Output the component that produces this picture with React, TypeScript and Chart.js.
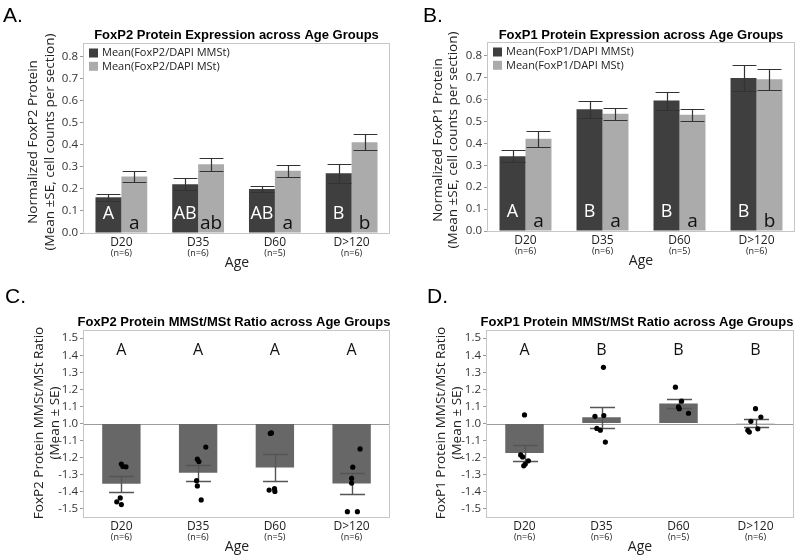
import React, { useEffect, useRef } from 'react';
import { Chart, registerables } from 'chart.js';

Chart.register(...registerables);

// ---------------- data ----------------
const ageGroups = ['D20', 'D35', 'D60', 'D>120'];
const sampleSizes = ['(n=6)', '(n=6)', '(n=5)', '(n=6)'];

// Panel A: FoxP2 / DAPI
const foxp2MMStMean = [0.162, 0.221, 0.2, 0.271];
const foxp2MMStSE = [0.015, 0.027, 0.012, 0.042];
const foxp2MStMean = [0.256, 0.312, 0.282, 0.412];
const foxp2MStSE = [0.026, 0.029, 0.028, 0.037];
const foxp2MMStGroups = ['A', 'AB', 'AB', 'B'];
const foxp2MStGroups = ['a', 'ab', 'a', 'b'];

// Panel B: FoxP1 / DAPI
const foxp1MMStMean = [0.341, 0.555, 0.595, 0.698];
const foxp1MMStSE = [0.027, 0.038, 0.041, 0.059];
const foxp1MStMean = [0.421, 0.535, 0.53, 0.692];
const foxp1MStSE = [0.036, 0.027, 0.027, 0.048];
const foxp1MMStGroups = ['A', 'B', 'B', 'B'];
const foxp1MStGroups = ['a', 'a', 'a', 'b'];

const expressionTicks = [0, 0.1, 0.2, 0.3, 0.4, 0.5, 0.6, 0.7, 0.8];

// Panel C: FoxP2 MMSt/MSt ratio (signed fold change: ratios < 1 shown as -1/ratio)
const foxp2RatioMean = [-1.353, -1.288, -1.258, -1.352];
const foxp2RatioSE = [0.047, 0.047, 0.081, 0.059];
const foxp2RatioGroups = ['A', 'A', 'A', 'A'];
const foxp2RatioD20 = [-1.238, -1.252, -1.254, -1.436, -1.459, -1.475];
const foxp2RatioD35 = [-1.138, -1.209, -1.223, -1.335, -1.366, -1.448];
const foxp2RatioD60 = [-1.058, -1.055, -1.39, -1.382, -1.398];
const foxp2RatioD120 = [-1.149, -1.256, -1.322, -1.349, -1.517, -1.517];
const foxp2JitterD20 = [0, 0.02, 0.06, -0.015, -0.06, 0];
const foxp2JitterD35 = [0.1, -0.01, 0.01, -0.02, -0.01, 0.04];
const foxp2JitterD60 = [-0.06, -0.045, -0.075, -0.005, 0];
const foxp2JitterD120 = [0.11, 0.015, 0, 0, -0.055, 0.075];

// Panel D: FoxP1 MMSt/MSt ratio
const foxp1RatioMean = [-1.173, 1.037, 1.117, 1.002];
const foxp1RatioSE = [0.045, 0.062, 0.026, 0.022];
const foxp1RatioGroups = ['A', 'B', 'B', 'B'];
const foxp1RatioD20 = [1.05, -1.184, -1.196, -1.219, -1.238, -1.248];
const foxp1RatioD35 = [1.329, 1.042, 1.047, -1.029, -1.039, -1.109];
const foxp1RatioD60 = [1.213, 1.131, 1.097, 1.087, 1.06];
const foxp1RatioD120 = [1.087, 1.038, 1.013, -1.031, -1.04, -1.05];
const foxp1JitterD20 = [0, -0.05, -0.025, 0.05, 0.01, -0.01];
const foxp1JitterD35 = [0.025, -0.085, 0.03, -0.06, -0.015, 0.05];
const foxp1JitterD60 = [-0.04, 0.04, 0, 0.01, 0.13];
const foxp1JitterD120 = [0, 0.07, -0.06, 0.03, -0.1, -0.08];

const ratioTicks = [-1.5, -1.4, -1.3, -1.2, -1.1, 1.0, 1.1, 1.2, 1.3, 1.4, 1.5];
const ratioLetterLevel = 1.4;

// ---------------- styling ----------------
const SANS = '"Open Sans", "Noto Sans", sans-serif';
const ARIAL = '"Liberation Sans", Arial, sans-serif';
const DARK = '#3f3f3f';
const LIGHT = '#ababab';
const RATIO_BAR = '#676767';
const FRAME = '#c6c6c6';

// signed-fold value -> linear axis position (1.0 -> 0, 1.3 -> 0.3, -1.3 -> -0.3)
const toAxis = (v: number) => (v >= 0 ? v - 1 : v + 1);
const fromAxis = (t: number) => (t >= 0 ? 1 + t : t - 1);

type Area = { l: number; r: number; t: number; b: number };
type Decor = {
  w: number;
  h: number;
  area: Area;
  panel: string;
  panelX: number;
  panelY: number;
  title: string;
  titleX: number;
  titleY: number;
  yTitle: string[];
  yTitleX: number[];
  yTitleY: number;
  ageX: number;
  legend?: { labels: string[]; colors: string[] };
  barLetters?: { ds: number; letters: string[]; color: string; font: string; lift: number }[];
  topLetters?: string[];
  refLine?: boolean;
};

function errorBarPlugin(specs: { ds: number; se: number[]; cap: number; color: string; lw: number }[]) {
  return {
    id: 'errorBars',
    afterDatasetDraw(chart: any, args: any) {
      const spec = specs.find((s) => s.ds === args.index);
      if (!spec) return;
      const ctx = chart.ctx;
      const y = chart.scales.y;
      const values = chart.data.datasets[args.index].data as number[];
      ctx.save();
      ctx.strokeStyle = spec.color;
      ctx.lineWidth = spec.lw;
      args.meta.data.forEach((bar: any, i: number) => {
        const { x, width } = bar.getProps(['x', 'width'], true);
        const cx = Math.round(x) + 0.5;
        const yHi = Math.round(y.getPixelForValue(values[i] + spec.se[i])) + 0.5;
        const yLo = Math.round(y.getPixelForValue(values[i] - spec.se[i])) + 0.5;
        const half = (width * spec.cap) / 2;
        ctx.beginPath();
        ctx.moveTo(cx, yHi);
        ctx.lineTo(cx, yLo);
        ctx.moveTo(cx - half, yHi);
        ctx.lineTo(cx + half, yHi);
        ctx.moveTo(cx - half, yLo);
        ctx.lineTo(cx + half, yLo);
        ctx.stroke();
      });
      ctx.restore();
    },
  };
}

function decorPlugin(d: Decor) {
  return {
    id: 'decor',
    beforeDatasetsDraw(chart: any) {
      if (!d.refLine) return;
      const { ctx, chartArea: ca } = chart;
      const yy = Math.round(chart.scales.y.getPixelForValue(0)) + 0.5;
      ctx.save();
      ctx.strokeStyle = '#9c9c9c';
      ctx.lineWidth = 1;
      ctx.beginPath();
      ctx.moveTo(ca.left, yy);
      ctx.lineTo(ca.right, yy);
      ctx.stroke();
      ctx.restore();
    },
    afterDatasetsDraw(chart: any) {
      const { ctx, chartArea: ca } = chart;
      ctx.save();
      if (d.barLetters) {
        d.barLetters.forEach((bl) => {
          const meta = chart.getDatasetMeta(bl.ds);
          ctx.fillStyle = bl.color;
          ctx.font = bl.font;
          ctx.textAlign = 'center';
          ctx.textBaseline = 'alphabetic';
          meta.data.forEach((bar: any, i: number) => {
            ctx.fillText(bl.letters[i], bar.x, ca.bottom - bl.lift);
          });
        });
      }
      if (d.topLetters) {
        const x = chart.scales.x;
        const yy = chart.scales.y.getPixelForValue(toAxis(ratioLetterLevel));
        ctx.fillStyle = '#111';
        ctx.font = `16px ${SANS}`;
        ctx.textAlign = 'center';
        ctx.textBaseline = 'alphabetic';
        d.topLetters.forEach((t, i) => ctx.fillText(t, x.getPixelForValue(i), yy));
      }
      ctx.restore();
    },
    afterDraw(chart: any) {
      const { ctx, chartArea: ca } = chart;
      ctx.save();
      // frame
      ctx.strokeStyle = FRAME;
      ctx.lineWidth = 1;
      ctx.strokeRect(ca.left + 0.5, ca.top + 0.5, ca.right - ca.left - 1, ca.bottom - ca.top);
      // panel letter
      ctx.fillStyle = '#000';
      ctx.font = `21px ${ARIAL}`;
      ctx.textAlign = 'left';
      ctx.textBaseline = 'alphabetic';
      ctx.fillText(d.panel, d.panelX, d.panelY);
      // title
      ctx.font = `bold 13px ${ARIAL}`;
      ctx.textAlign = 'center';
      ctx.textBaseline = 'middle';
      ctx.fillText(d.title, d.titleX, d.titleY);
      // y title
      ctx.fillStyle = '#222';
      ctx.font = `13.5px ${SANS}`;
      d.yTitle.forEach((line, i) => {
        ctx.save();
        ctx.translate(d.yTitleX[i], d.yTitleY);
        ctx.rotate(-Math.PI / 2);
        ctx.textAlign = 'center';
        ctx.textBaseline = 'middle';
        ctx.fillText(line, 0, 0);
        ctx.restore();
      });
      // sample sizes
      const x = chart.scales.x;
      ctx.font = `9px ${SANS}`;
      ctx.textAlign = 'center';
      ctx.textBaseline = 'middle';
      sampleSizes.forEach((n, i) => ctx.fillText(n, x.getPixelForValue(i), ca.bottom + 20.5));
      // x title
      ctx.font = `14px ${SANS}`;
      ctx.fillText('Age', d.ageX, ca.bottom + 30);
      // legend
      if (d.legend) {
        ctx.font = `11px ${SANS}`;
        ctx.textAlign = 'left';
        d.legend.labels.forEach((lab, i) => {
          const top = ca.top + 5.5 + i * 13.3;
          ctx.fillStyle = d.legend!.colors[i];
          ctx.fillRect(ca.left + 6, top, 9, 9);
          ctx.fillStyle = '#222';
          ctx.fillText(lab, ca.left + 19, top + 4.8);
        });
      }
      ctx.restore();
    },
  };
}

const yTickFont = { family: SANS, size: 11.5 };
const xTickFont = { family: SANS, size: 12 };

function commonScales(area: Area, w: number, h: number) {
  return {
    x: {
      type: 'category',
      offset: true,
      grid: { display: false, drawTicks: false },
      border: { display: false },
      ticks: { font: xTickFont, color: '#222', padding: 2.5, maxRotation: 0, autoSkip: false },
      afterFit: (s: any) => {
        s.height = h - area.b;
      },
    },
  };
}

function expressionConfig(p: {
  mmst: number[];
  mmstSE: number[];
  mst: number[];
  mstSE: number[];
  mmstGroups: string[];
  mstGroups: string[];
  legend: string[];
  decor: Decor;
}) {
  const { area, w, h } = p.decor;
  return {
    type: 'bar',
    data: {
      labels: ageGroups,
      datasets: [
        { label: p.legend[0], data: p.mmst, backgroundColor: DARK, borderWidth: 0, categoryPercentage: 0.675, barPercentage: 1 },
        { label: p.legend[1], data: p.mst, backgroundColor: LIGHT, borderWidth: 0, categoryPercentage: 0.675, barPercentage: 1 },
      ],
    },
    options: {
      responsive: false,
      animation: false,
      events: [],
      layout: { padding: { top: area.t, right: w - area.r, bottom: 0, left: 0 } },
      plugins: { legend: { display: false }, title: { display: false }, tooltip: { enabled: false } },
      scales: {
        ...commonScales(area, w, h),
        y: {
          min: 0,
          max: 0.862,
          bounds: 'data',
          grid: { drawOnChartArea: false, drawTicks: true, tickLength: 3, color: '#9a9a9a' },
          border: { display: false },
          afterBuildTicks: (s: any) => {
            s.ticks = expressionTicks.map((v) => ({ value: v }));
          },
          ticks: {
            font: yTickFont,
            color: '#333',
            padding: 2,
            callback: (v: number) => v.toFixed(1),
          },
          afterFit: (s: any) => {
            s.width = area.l;
          },
        },
      },
    },
    plugins: [
      errorBarPlugin([
        { ds: 0, se: p.mmstSE, cap: 0.92, color: '#333', lw: 1.2 },
        { ds: 1, se: p.mstSE, cap: 0.92, color: '#333', lw: 1.2 },
      ]),
      decorPlugin({
        ...p.decor,
        legend: { labels: p.legend, colors: [DARK, LIGHT] },
        barLetters: [
          { ds: 0, letters: p.mmstGroups, color: '#fff', font: `18px ${SANS}`, lift: 14.5 },
          { ds: 1, letters: p.mstGroups, color: '#111', font: `19px ${SANS}`, lift: 4.5 },
        ],
      }),
    ],
  };
}

function ratioConfig(p: {
  mean: number[];
  se: number[];
  groups: string[];
  points: number[][];
  jitter: number[][];
  decor: Decor;
}) {
  const { area, w, h } = p.decor;
  const dots: { x: number; y: number }[] = [];
  p.points.forEach((vals, i) =>
    vals.forEach((v, k) => dots.push({ x: i + p.jitter[i][k], y: toAxis(v) }))
  );
  return {
    type: 'bar',
    data: {
      labels: ageGroups,
      datasets: [
        {
          label: 'Mean ratio',
          data: p.mean.map(toAxis),
          backgroundColor: RATIO_BAR,
          borderWidth: 0,
          categoryPercentage: 0.5,
          barPercentage: 1,
          grouped: false,
          order: 1,
        },
        {
          type: 'scatter',
          label: 'Individual',
          data: dots,
          xAxisID: 'xj',
          yAxisID: 'y',
          pointRadius: 2.6,
          pointBackgroundColor: '#000',
          pointBorderWidth: 0,
          order: 0,
        },
      ],
    },
    options: {
      responsive: false,
      animation: false,
      events: [],
      layout: { padding: { top: area.t, right: w - area.r, bottom: 0, left: 0 } },
      plugins: { legend: { display: false }, title: { display: false }, tooltip: { enabled: false } },
      scales: {
        ...commonScales(area, w, h),
        xj: { type: 'linear', display: false, min: -0.5, max: 3.5, offset: false },
        y: {
          min: -0.548,
          max: 0.548,
          bounds: 'data',
          grid: { drawOnChartArea: false, drawTicks: true, tickLength: 3, color: '#9a9a9a' },
          border: { display: false },
          afterBuildTicks: (s: any) => {
            s.ticks = ratioTicks.map((v) => ({ value: toAxis(v) }));
          },
          ticks: {
            font: yTickFont,
            color: '#333',
            padding: 2,
            callback: (v: number) => fromAxis(Math.round(v * 10) / 10).toFixed(1),
          },
          afterFit: (s: any) => {
            s.width = area.l;
          },
        },
      },
    },
    plugins: [
      errorBarPlugin([{ ds: 0, se: p.se, cap: 0.65, color: '#555', lw: 1.4 }]),
      decorPlugin({ ...p.decor, topLetters: p.groups, refLine: true }),
    ],
  };
}

function ChartBox({ x, y, w, h, make }: { x: number; y: number; w: number; h: number; make: () => any }) {
  const ref = useRef<HTMLCanvasElement>(null);
  useEffect(() => {
    const chart = new Chart(ref.current as HTMLCanvasElement, make());
    return () => chart.destroy();
  }, []);
  return (
    <canvas
      ref={ref}
      width={w}
      height={h}
      style={{ position: 'absolute', left: x, top: y, width: w, height: h }}
    />
  );
}

const W = 400;
const H = 278;

export default function App() {
  return (
    <div style={{ position: 'absolute', left: 0, top: 0, width: 800, height: 556, background: '#fff', overflow: 'hidden' }}>
      <ChartBox
        x={0}
        y={0}
        w={W}
        h={H}
        make={() =>
          expressionConfig({
            mmst: foxp2MMStMean,
            mmstSE: foxp2MMStSE,
            mst: foxp2MStMean,
            mstSE: foxp2MStSE,
            mmstGroups: foxp2MMStGroups,
            mstGroups: foxp2MStGroups,
            legend: ['Mean(FoxP2/DAPI MMSt)', 'Mean(FoxP2/DAPI MSt)'],
            decor: {
              w: W,
              h: H,
              area: { l: 83, r: 390, t: 43, b: 233 },
              panel: 'A.',
              panelX: 3,
              panelY: 22,
              title: 'FoxP2 Protein Expression across Age Groups',
              titleX: 236.5,
              titleY: 35,
              yTitle: ['Normalized FoxP2 Protein', '(Mean ±SE, cell counts per section)'],
              yTitleX: [33.5, 50],
              yTitleY: 142,
              ageX: 237,
            },
          })
        }
      />
      <ChartBox
        x={400}
        y={0}
        w={W}
        h={H}
        make={() =>
          expressionConfig({
            mmst: foxp1MMStMean,
            mmstSE: foxp1MMStSE,
            mst: foxp1MStMean,
            mstSE: foxp1MStSE,
            mmstGroups: foxp1MMStGroups,
            mstGroups: foxp1MStGroups,
            legend: ['Mean(FoxP1/DAPI MMSt)', 'Mean(FoxP1/DAPI MSt)'],
            decor: {
              w: W,
              h: H,
              area: { l: 87, r: 395, t: 42, b: 231 },
              panel: 'B.',
              panelX: 23,
              panelY: 22,
              title: 'FoxP1 Protein Expression across Age Groups',
              titleX: 241,
              titleY: 35,
              yTitle: ['Normalized FoxP1 Protein', '(Mean ±SE, cell counts per section)'],
              yTitleX: [38, 53],
              yTitleY: 140,
              ageX: 241,
            },
          })
        }
      />
      <ChartBox
        x={0}
        y={278}
        w={W}
        h={H}
        make={() =>
          ratioConfig({
            mean: foxp2RatioMean,
            se: foxp2RatioSE,
            groups: foxp2RatioGroups,
            points: [foxp2RatioD20, foxp2RatioD35, foxp2RatioD60, foxp2RatioD120],
            jitter: [foxp2JitterD20, foxp2JitterD35, foxp2JitterD60, foxp2JitterD120],
            decor: {
              w: W,
              h: H,
              area: { l: 83, r: 390, t: 52, b: 239 },
              panel: 'C.',
              panelX: 5,
              panelY: 25,
              title: 'FoxP2 Protein MMSt/MSt Ratio across Age Groups',
              titleX: 234,
              titleY: 44.7,
              yTitle: ['FoxP2 Protein MMSt/MSt Ratio', '(Mean ± SE)'],
              yTitleX: [39, 55],
              yTitleY: 145,
              ageX: 237,
            },
          })
        }
      />
      <ChartBox
        x={400}
        y={278}
        w={W}
        h={H}
        make={() =>
          ratioConfig({
            mean: foxp1RatioMean,
            se: foxp1RatioSE,
            groups: foxp1RatioGroups,
            points: [foxp1RatioD20, foxp1RatioD35, foxp1RatioD60, foxp1RatioD120],
            jitter: [foxp1JitterD20, foxp1JitterD35, foxp1JitterD60, foxp1JitterD120],
            decor: {
              w: W,
              h: H,
              area: { l: 86, r: 394, t: 52, b: 239 },
              panel: 'D.',
              panelX: 27,
              panelY: 25,
              title: 'FoxP1 Protein MMSt/MSt Ratio across Age Groups',
              titleX: 237,
              titleY: 44.7,
              yTitle: ['FoxP1 Protein MMSt/MSt Ratio', '(Mean ± SE)'],
              yTitleX: [41, 57],
              yTitleY: 145,
              ageX: 240,
            },
          })
        }
      />
    </div>
  );
}
